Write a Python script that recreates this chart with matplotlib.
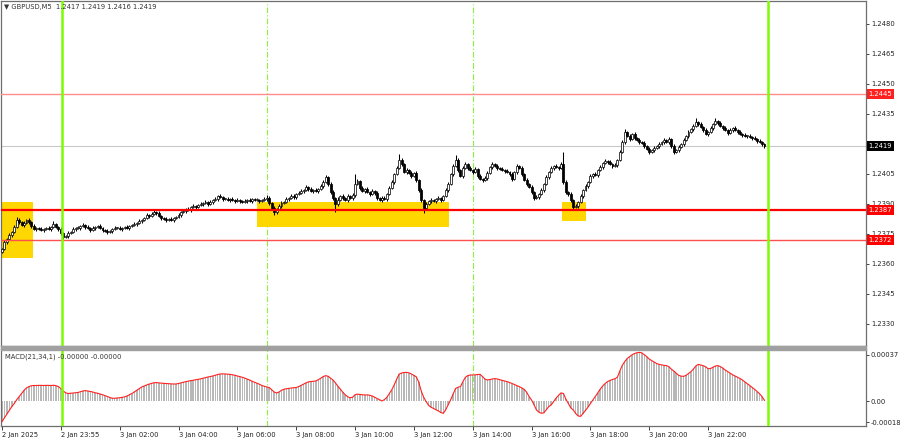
import numpy as np
import matplotlib.pyplot as plt

# GBPUSD M5, 2 Jan 22:00 .. 3 Jan 23:55, closes in pips above 1.2300
BASE = 1.2300
first_open = 66.0
close_pips = [
    67.5, 71, 72.5, 74.5, 76, 78.5, 82, 81, 79.5, 80.5, 82, 81,
    79, 77.5, 78, 77.5, 77, 77.5, 78, 77.5, 78.5, 80, 78.5, 77.5,
    75.5, 73.5, 74, 75.5, 76, 77.5, 78, 78, 79, 79.5, 78.5, 78,
    77, 78, 78.5, 79, 78, 77, 76.5, 76, 76.5, 77.5, 78, 78,
    77.5, 78, 78.5, 78, 79, 79.5, 80, 80.5, 81.5, 82, 83, 84.5,
    84, 85, 86, 85.5, 84, 83, 82.5, 82, 82.5, 82, 83, 83.5,
    84.5, 86, 86.5, 87.5, 87, 88.5, 89, 88.5, 89.5, 90, 90.5, 91,
    90, 91, 92, 92.5, 94, 93.5, 92.5, 92.5, 92, 92.5, 92, 91.5,
    92, 91.5, 91, 91.5, 92, 91.5, 92.5, 92, 92, 91.5, 92, 92.5,
    93, 90.5, 88, 86, 87.5, 89, 90.5, 91, 92.5, 93, 94, 93.5,
    95, 95.5, 96.5, 97, 98.5, 97.5, 96.5, 97, 96.5, 97.5, 99, 101,
    103.5, 100, 96, 93, 90, 92, 94, 93, 92, 94, 93, 94.5,
    100, 101.5, 98, 96.5, 97.5, 96, 95, 96.5, 95.5, 93, 92, 93,
    92.5, 95, 98, 101, 105, 108, 112, 110, 106, 107, 105.5, 104,
    105.5, 102, 97, 92, 88, 90, 91.5, 92, 91.5, 92.5, 93, 92,
    94, 97, 100, 105, 109, 112, 107, 104, 108, 110, 108, 107,
    106, 107.5, 104, 102.5, 102, 103, 105.5, 108.5, 110, 109, 108, 107.5,
    107, 106.5, 106, 105, 102.5, 106, 109, 108, 105, 102, 100, 98.5,
    96, 93, 93.5, 95, 97, 100, 103.5, 106, 108, 109, 108.5, 108,
    110, 101, 96, 95, 92, 88.5, 89, 91, 94, 97, 99, 101,
    104, 105, 104.5, 107, 108.5, 110.5, 111.5, 111, 110, 109, 109.5, 112,
    116, 121, 126, 124, 122.5, 125, 123, 122, 121, 120.5, 119, 117.5,
    116, 117, 118, 119, 120, 121, 122, 121, 122.5, 119, 116, 117,
    118.5, 120, 122, 124, 126, 127.5, 129, 131, 130, 128.5, 127, 125,
    126, 128, 130, 131.5, 130.5, 129, 128, 127, 125.5, 127, 128, 127,
    126, 125, 124.5, 124, 124, 123.5, 123, 122.5, 121.5, 121, 120, 119,
]
wick_up = [
    0.5, 1, 0.5, 1, 0.5, 1, 1.5, 1, 0.5, 1, 0.5, 1,
    0.5, 1, 0.5, 0.5, 1, 0.5, 0.5, 1, 0.5, 1.5, 0.5, 0.5,
    1, 0.5, 0.5, 1, 0.5, 1, 0.5, 1, 0.5, 1, 0.5, 1,
    0.5, 1, 0.5, 0.5, 1, 0.5, 0.5, 1, 0.5, 0.5, 1, 0.5,
    1, 0.5, 0.5, 1, 0.5, 0.5, 1, 0.5, 1, 0.5, 0.5, 1,
    0.5, 1, 1, 0.5, 1, 0.5, 0.5, 1, 0.5, 1, 0.5, 0.5,
    1, 0.5, 1, 0.5, 1, 0.5, 1, 0.5, 0.5, 1, 0.5, 1,
    0.5, 1, 0.5, 1, 0.5, 1, 0.5, 0.5, 1, 0.5, 1, 0.5,
    1, 0.5, 0.5, 1, 0.5, 1, 0.5, 0.5, 1, 0.5, 0.5, 1,
    1.5, 1, 0.5, 1, 0.5, 1, 1, 0.5, 1, 0.5, 1, 1,
    0.5, 1, 1, 0.5, 1, 0.5, 1, 0.5, 1, 0.5, 1, 1,
    1, 0.5, 1, 1, 0.5, 1.5, 0.5, 1, 0.5, 1, 0.5, 1,
    5, 1, 0.5, 1, 0.5, 1, 0.5, 1, 0.5, 1, 0.5, 1,
    1, 0.5, 1, 1, 0.5, 1, 2.8, 1, 0.5, 1, 0.5, 1,
    0.5, 1, 0.5, 1, 0.5, 1, 0.5, 1, 0.5, 0.5, 1, 0.5,
    0.5, 1, 1, 0.5, 1, 2.5, 1, 0.5, 1, 1, 0.5, 1,
    0.5, 1, 0.5, 1, 0.5, 1, 1, 0.5, 1, 0.5, 1, 0.5,
    1, 0.5, 1, 0.5, 1, 0.5, 1, 0.5, 1, 0.5, 1, 0.5,
    1, 0.5, 1, 0.5, 1, 0.5, 1, 0.5, 1, 0.5, 1, 0.5,
    1, 6, 1, 0.5, 1, 0.5, 1, 0.5, 1, 0.5, 1, 0.5,
    1, 0.5, 1, 0.5, 1, 0.5, 1, 0.5, 1, 0.5, 1, 0.5,
    1, 1, 1.5, 0.5, 1, 0.5, 1, 0.5, 1, 0.5, 1, 0.5,
    1, 0.5, 1, 0.5, 1, 0.5, 1, 0.5, 1, 0.5, 1, 0.5,
    1, 0.5, 1, 0.5, 1, 0.5, 1, 1.8, 0.5, 1, 0.5, 1,
    0.5, 1, 0.5, 1.5, 0.5, 1, 0.5, 1, 0.5, 1, 0.5, 1,
    0.5, 1, 0.5, 1, 0.5, 1, 0.5, 1, 0.5, 1, 0.5, 0.5,
]
wick_dn = [
    0.5, 0.5, 1, 0.5, 1, 0.5, 0.5, 1, 0.5, 1, 0.5, 1,
    1, 0.5, 1, 0.5, 0.5, 1, 0.5, 0.5, 1, 0.5, 0.5, 1,
    1, 1, 0.5, 1, 0.5, 0.5, 1, 0.5, 1, 0.5, 1, 0.5,
    1, 0.5, 1, 0.5, 0.5, 1, 0.5, 1, 0.5, 1, 0.5, 0.5,
    0.5, 1, 0.5, 0.5, 1, 0.5, 0.5, 1, 0.5, 1, 0.5, 0.5,
    1, 0.5, 0.5, 1, 0.5, 1, 0.5, 1, 0.5, 0.5, 1, 0.5,
    0.5, 1, 0.5, 1, 0.5, 1, 0.5, 1, 0.5, 0.5, 1, 0.5,
    1, 0.5, 1, 0.5, 1, 0.5, 1, 0.5, 0.5, 1, 0.5, 1,
    0.5, 1, 0.5, 0.5, 1, 0.5, 1, 0.5, 0.5, 1, 0.5, 0.5,
    1, 1, 1, 1.5, 1, 0.5, 1, 0.5, 0.5, 1, 0.5, 1,
    1, 0.5, 0.5, 1, 0.5, 1, 0.5, 1, 0.5, 1, 0.5, 1,
    0.5, 1, 1, 1, 4, 1, 0.5, 1, 0.5, 1, 0.5, 1,
    1, 0.5, 1, 0.5, 1, 0.5, 1, 0.5, 1, 1, 0.5, 1,
    0.5, 1, 0.5, 0.5, 1, 0.5, 0.5, 1, 0.5, 1, 0.5, 1,
    0.5, 1, 1, 1, 2.7, 1, 0.5, 1, 0.5, 1, 0.5, 1,
    0.5, 0.5, 1, 0.5, 1, 0.5, 1, 0.5, 1, 0.5, 1, 0.5,
    1, 0.5, 1, 0.5, 1, 0.5, 1, 0.5, 1, 0.5, 1, 0.5,
    0.5, 1, 0.5, 1, 1, 0.5, 1, 0.5, 1, 0.5, 1, 0.5,
    1, 1, 0.5, 1, 0.5, 1, 0.5, 1, 0.5, 1, 0.5, 1,
    0.5, 1, 1, 1, 1, 1.5, 0.5, 1, 0.5, 1, 0.5, 1,
    0.5, 1, 0.5, 1, 0.5, 1, 0.5, 1, 0.5, 1, 0.5, 1,
    0.5, 0.5, 1, 0.5, 1, 0.5, 1, 0.5, 1, 0.5, 1, 0.5,
    1, 0.5, 1, 0.5, 1, 0.5, 1, 0.5, 1, 1, 1, 0.5,
    1, 0.5, 1, 0.5, 1, 0.5, 1, 0.5, 1, 0.5, 1, 0.5,
    1, 0.5, 1, 0.5, 1, 0.5, 1, 0.5, 1, 0.5, 1, 0.5,
    1, 0.5, 1, 0.5, 1, 0.5, 1, 0.5, 1, 0.5, 1, 1,
]
# MACD(21,34,1) per bar, in units of 1e-5
macd_e5 = [
    -16.5, -13.5, -10.5, -7.5, -4.5, -2, 1, 3.5, 6, 8.5, 10.5, 11.5,
    12.2, 12.4, 12.4, 12.5, 12.5, 12.4, 12.5, 12.5, 12.4, 12.6, 12.3, 11.5,
    10, 8, 6.5, 6, 6.2, 6.4, 6.6, 6.8, 7.4, 8, 8.3, 8,
    7.6, 7.2, 6.6, 6.2, 5.6, 5, 4.3, 3.6, 2.8, 2.2, 2.2, 2.4,
    2.6, 2.9, 3.3, 4, 5, 6, 7.3, 8.6, 10, 11.2, 12, 12.8,
    13.5, 14.1, 14.6, 14.7, 14.5, 14.3, 14.1, 14, 13.8, 13.7, 13.6, 13.6,
    14, 14.5, 15, 15.5, 15.9, 16.3, 16.6, 17, 17.3, 17.7, 18.2, 18.7,
    19.2, 19.6, 20, 20.6, 21.2, 21.6, 21.7, 21.6, 21.5, 21.3, 21, 20.6,
    20, 19.5, 19, 18.3, 17.5, 16.8, 15.8, 15, 14.2, 13.4, 12.4, 11.8,
    11.2, 10.8, 9, 7.2, 6.4, 7.2, 8.6, 9.4, 9.8, 10.1, 10.4, 10.6,
    10.8, 11.5, 12.5, 13.5, 14.5, 15.3, 15.6, 15.8, 16, 17, 18.3, 19.5,
    20.3, 19.8, 18.3, 16.8, 14.5, 11.8, 9.5, 7, 5, 3.4, 2.6, 3,
    5, 5.5, 5.2, 5, 4.8, 4.9, 4.6, 4, 3, 2, 1, 0,
    1.2, 3, 6, 9, 13, 17.5, 21.5, 22.4, 22.8, 22.9, 22.5, 21.6,
    20.5, 19.3, 15, 8, 3, -0.5, -3.5, -5, -6, -7, -8, -9.2,
    -9.9, -7, -3, 1, 5.5, 10, 11, 11.5, 15.5, 19, 20.3, 20.8,
    20.8, 20.9, 21.2, 21.3, 19.5, 17.5, 16.8, 17.2, 17.6, 17.9, 17.6, 17.1,
    16.5, 16, 15.5, 14.8, 14, 13.2, 12.3, 11.5, 10.5, 9.3, 7, 3.5,
    0.8, -3, -7.2, -9, -9.8, -9.5, -7, -4.5, -3.2, -0.5, 2.3, 4.5,
    6.5, 6, 1.5, -2, -5.5, -7.2, -10, -12, -12.3, -10, -7.5, -5,
    -2, 0.8, 3.5, 6.5, 9.5, 12, 14, 15.5, 16.5, 17.2, 17.8, 19,
    24, 28.5, 31.5, 34, 35.5, 37, 38, 38.6, 38.9, 38.5, 37, 35.5,
    33.5, 32.3, 31, 30, 29.3, 28.9, 28.5, 28.3, 27.5, 25.5, 24, 22.2,
    20.5, 19.9, 19.7, 20.5, 22, 23.5, 25.5, 28, 29.3, 28.8, 28.3, 27.4,
    25.8, 26, 27, 28, 28.3, 27.5, 26.3, 24.8, 23.5, 22.2, 21, 20,
    19, 18, 16.8, 15.3, 13.8, 12.2, 10.8, 9.3, 7.5, 5.8, 3.5, 0.5,
]

levels = [1.2445, 1.2387, 1.2372]
level_colors = ['#ff8c8c', '#ff0000', '#ff5050']
level_widths = [1.0, 1.6, 1.0]
last_price = 1.2419
price_ticks = [1.2480, 1.2465, 1.2450, 1.2435, 1.2405, 1.2390, 1.2375, 1.2360, 1.2345, 1.2330]
time_bars = [0, 24, 48, 72, 96, 120, 144, 168, 192, 216, 240, 264, 288]
time_labels = ['2 Jan 2025', '2 Jan 23:55', '3 Jan 02:00', '3 Jan 04:00', '3 Jan 06:00',
               '3 Jan 08:00', '3 Jan 10:00', '3 Jan 12:00', '3 Jan 14:00', '3 Jan 16:00',
               '3 Jan 18:00', '3 Jan 20:00', '3 Jan 22:00']
day_lines = [24.6, 312.4]
session_lines = [108.1, 192.1]
# yellow zones: bar from, bar to, price low, price high
zones = [(-1.0, 12.6, 1.2363, 1.2391), (104.0, 182.3, 1.23787, 1.2391), (228.3, 238.2, 1.23817, 1.23912)]

FS = 4.9
W, H = 900, 441
fig = plt.figure(figsize=(W / 100, H / 100), dpi=100)
ax = fig.add_axes([1 / W, 1 - 346 / H, 865 / W, 345 / H])
axm = fig.add_axes([1 / W, 1 - 426 / H, 865 / W, 77 / H])

close = BASE + np.array(close_pips) / 1e4
opens = np.concatenate([[BASE + first_open / 1e4], close[:-1]])
highs = np.maximum(opens, close) + np.array(wick_up) / 1e4
lows = np.minimum(opens, close) - np.array(wick_dn) / 1e4
idx = np.arange(len(close))

for x0, x1, lo, hi in zones:
    ax.fill_between([x0, x1], lo, hi, color='#ffd700', lw=0, zorder=1)

for lv, col, lw in zip(levels, level_colors, level_widths):
    ax.axhline(lv, color=col, lw=lw, zorder=4)
ax.axhline(last_price, color='#c8c8c8', lw=0.8, zorder=0.5)

ax.vlines(idx, lows, highs, color='black', lw=0.75, zorder=3)
up = close >= opens
body_lo = np.minimum(opens, close)
body_h = np.maximum(np.abs(close - opens), 0.00003)
ax.bar(idx[up], body_h[up], bottom=body_lo[up], width=0.8, color='white',
       edgecolor='#111111', lw=0.55, zorder=3)
ax.bar(idx[~up], body_h[~up], bottom=body_lo[~up], width=0.8, color='black',
       edgecolor='black', lw=0.55, zorder=3)

macd = np.array(macd_e5)
axm.bar(idx, macd, width=0.6, color='#b8b8b8', zorder=2)
axm.plot(idx, macd, color='#ff2020', lw=0.8, zorder=3)

for a in (ax, axm):
    for x in day_lines:
        a.axvline(x, color='#7cfc00', lw=1.8, zorder=5)
    for x in session_lines:
        a.axvline(x, color='#8cf03c', lw=0.8, ls=(0, (5, 2, 1, 2)), zorder=0.8)
    a.set_xlim(-0.4, 352.4)
    for s in a.spines.values():
        s.set_color('#6e6e6e')
        s.set_linewidth(0.9)
    a.yaxis.tick_right()
    a.tick_params(axis='y', length=2.5, width=0.6, pad=1, labelsize=FS, colors='#222222')

ax.set_ylim(1.2319, 1.24915)
ax.set_xticks([])
ax.set_yticks(price_ticks)
ax.set_yticklabels([f'{p:.4f}' for p in price_ticks])

axm.set_ylim(-20, 41.6)
axm.set_yticks([37, 0, -17])
axm.set_yticklabels(['0.00037', '0.00', '-0.00018'])
axm.set_xticks(time_bars)
axm.set_xticklabels(time_labels)
axm.tick_params(axis='x', length=3, width=0.6, pad=1, labelsize=FS, colors='#222222')
for lbl in axm.get_xticklabels():
    lbl.set_ha('left')

# price boxes on the scale
ytr = ax.get_yaxis_transform()
for lv, col in zip(levels, ['#ff2020', '#ff0000', '#ff0000']):
    ax.text(1.003, lv, f'{lv:.4f}', transform=ytr, ha='left', va='center', fontsize=FS,
            color='white', zorder=10, clip_on=False,
            bbox=dict(boxstyle='square,pad=0.3', fc=col, ec='none'))
ax.text(1.003, last_price, f'{last_price:.4f}', transform=ytr, ha='left', va='center',
        fontsize=FS, color='white', zorder=10, clip_on=False,
        bbox=dict(boxstyle='square,pad=0.3', fc='black', ec='none'))

# separator band between panels
fig.patches.append(plt.Rectangle((1 / W, 1 - 349.5 / H), 865 / W, 3.5 / H, transform=fig.transFigure,
                                 color='#a0a0a0', zorder=6))

fig.text(4 / W, 1 - 7 / H, '\u25bc GBPUSD,M5  1.2417 1.2419 1.2416 1.2419', fontsize=FS,
         color='#333333', va='center', ha='left')
fig.text(5 / W, 1 - 357 / H, 'MACD(21,34,1) -0.00000 -0.00000', fontsize=FS,
         color='#333333', va='center', ha='left')

fig.savefig('out.png', dpi=100, facecolor='white')
